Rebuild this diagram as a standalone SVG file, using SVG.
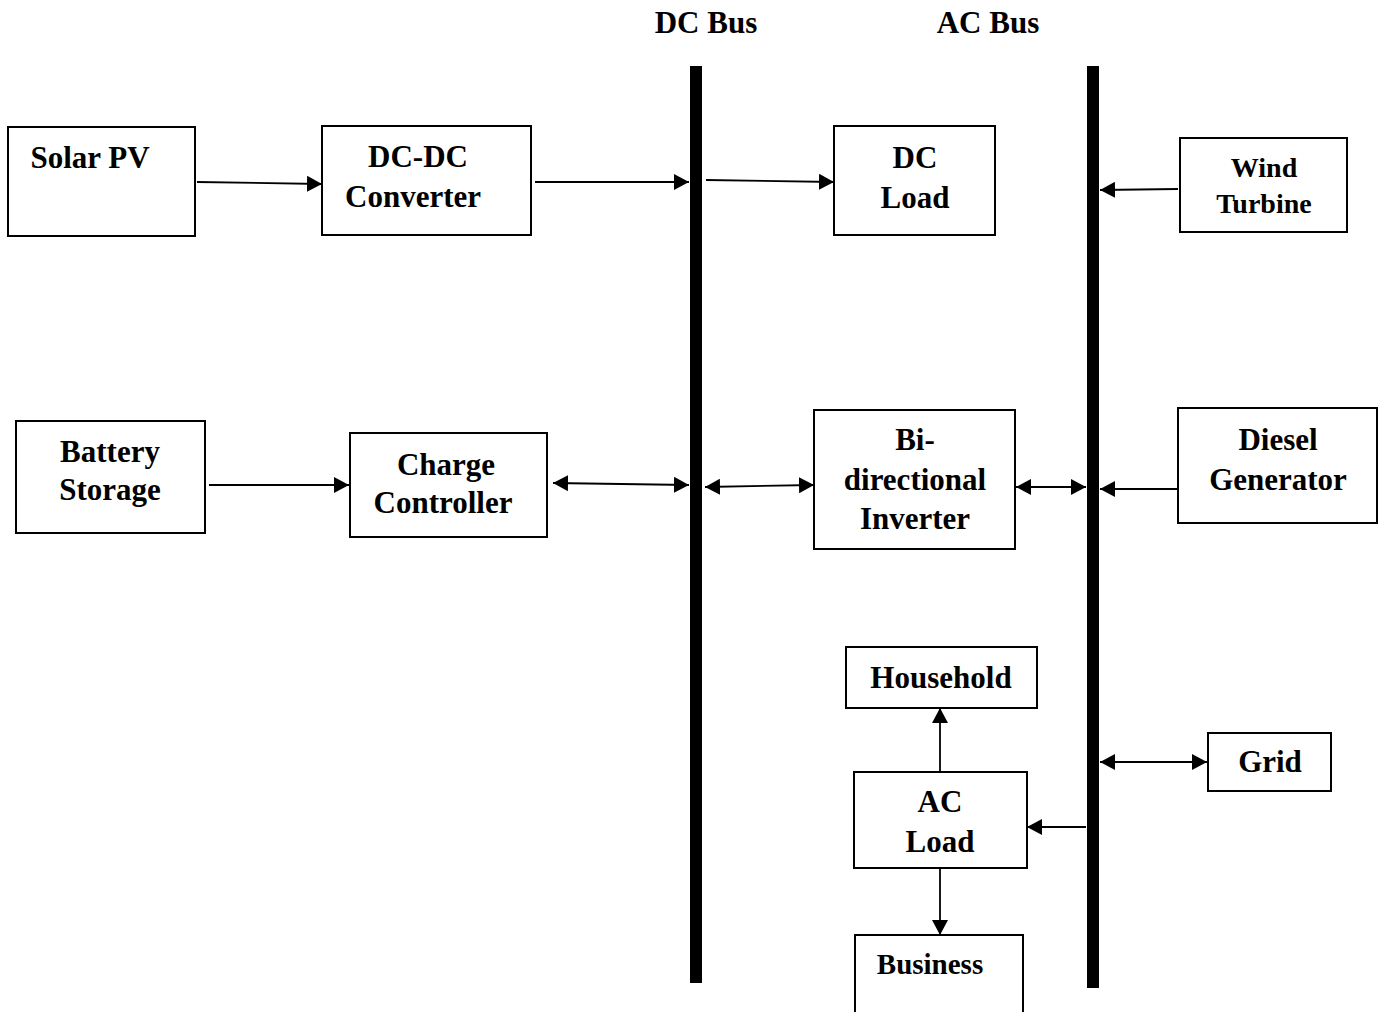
<svg xmlns="http://www.w3.org/2000/svg" width="1385" height="1012" viewBox="0 0 1385 1012">
<defs>
<style>
.box{fill:#fff;stroke:#000;stroke-width:2}
.t{font-family:"Liberation Serif","Times New Roman",serif;font-weight:bold;font-size:31px;fill:#000;text-anchor:middle}
.s{font-size:28px}
.bus{fill:#000}
.c{stroke:#000;stroke-width:1.8;fill:none}
</style>
<marker id="ah" viewBox="0 0 15 16" refX="15" refY="8" markerWidth="15" markerHeight="16" markerUnits="userSpaceOnUse" orient="auto-start-reverse">
<path d="M0,0 L15,8 L0,16 Z" fill="#000"/>
</marker>
</defs>
<rect width="1385" height="1012" fill="#fff"/>

<g id="dc-bus">
<rect class="bus" x="690" y="66" width="12" height="917"/>
<text class="t" x="706" y="33">DC Bus</text>
</g>
<g id="ac-bus">
<rect class="bus" x="1087" y="66" width="12" height="922"/>
<text class="t" x="988" y="33">AC Bus</text>
</g>

<g id="solar-pv">
<rect class="box" x="8" y="127" width="187" height="109"/>
<text class="t" x="90" y="168">Solar PV</text>
</g>
<g id="dc-dc-converter">
<rect class="box" x="322" y="126" width="209" height="109"/>
<text class="t" x="418" y="167">DC-DC</text>
<text class="t" x="413" y="207">Converter</text>
</g>
<g id="dc-load">
<rect class="box" x="834" y="126" width="161" height="109"/>
<text class="t" x="915" y="168">DC</text>
<text class="t" x="915" y="208">Load</text>
</g>
<g id="wind-turbine">
<rect class="box" x="1180" y="138" width="167" height="94"/>
<text class="t s" x="1264" y="177">Wind</text>
<text class="t s" x="1264" y="213">Turbine</text>
</g>
<g id="battery-storage">
<rect class="box" x="16" y="421" width="189" height="112"/>
<text class="t" x="110" y="462">Battery</text>
<text class="t" x="110" y="500">Storage</text>
</g>
<g id="charge-controller">
<rect class="box" x="350" y="433" width="197" height="104"/>
<text class="t" x="446" y="475">Charge</text>
<text class="t" x="443" y="513">Controller</text>
</g>
<g id="bidirectional-inverter">
<rect class="box" x="814" y="410" width="201" height="139"/>
<text class="t" x="915" y="450">Bi-</text>
<text class="t" x="915" y="490">directional</text>
<text class="t" x="915" y="529">Inverter</text>
</g>
<g id="diesel-generator">
<rect class="box" x="1178" y="408" width="199" height="115"/>
<text class="t" x="1278" y="450">Diesel</text>
<text class="t" x="1278" y="490">Generator</text>
</g>
<g id="household">
<rect class="box" x="846" y="647" width="191" height="61"/>
<text class="t" x="941" y="688">Household</text>
</g>
<g id="grid">
<rect class="box" x="1208" y="733" width="123" height="58"/>
<text class="t" x="1270" y="772">Grid</text>
</g>
<g id="ac-load">
<rect class="box" x="854" y="772" width="173" height="96"/>
<text class="t" x="940" y="812">AC</text>
<text class="t" x="940" y="852">Load</text>
</g>
<g id="business">
<rect class="box" x="855" y="935" width="168" height="90"/>
<text class="t" x="930" y="974" style="font-size:29px">Business</text>
</g>

<g id="connectors">
<line class="c" x1="197" y1="182" x2="322" y2="184" marker-end="url(#ah)"/>
<line class="c" x1="535" y1="182" x2="689" y2="182" marker-end="url(#ah)"/>
<line class="c" x1="706" y1="180" x2="834" y2="182" marker-end="url(#ah)"/>
<line class="c" x1="1178" y1="189" x2="1100" y2="190" marker-end="url(#ah)"/>
<line class="c" x1="209" y1="485" x2="349" y2="485" marker-end="url(#ah)"/>
<line class="c" x1="553" y1="483" x2="689" y2="485" marker-start="url(#ah)" marker-end="url(#ah)"/>
<line class="c" x1="705" y1="487" x2="814" y2="485" marker-start="url(#ah)" marker-end="url(#ah)"/>
<line class="c" x1="1016" y1="487" x2="1086" y2="487" marker-start="url(#ah)" marker-end="url(#ah)"/>
<line class="c" x1="1177" y1="489" x2="1100" y2="489" marker-end="url(#ah)"/>
<line class="c" x1="1100" y1="762" x2="1207" y2="762" marker-start="url(#ah)" marker-end="url(#ah)"/>
<line class="c" x1="1086" y1="827" x2="1027" y2="827" marker-end="url(#ah)"/>
<line class="c" x1="940" y1="772" x2="940" y2="708" marker-end="url(#ah)"/>
<line class="c" x1="940" y1="868" x2="940" y2="935" marker-end="url(#ah)"/>
</g>
</svg>
